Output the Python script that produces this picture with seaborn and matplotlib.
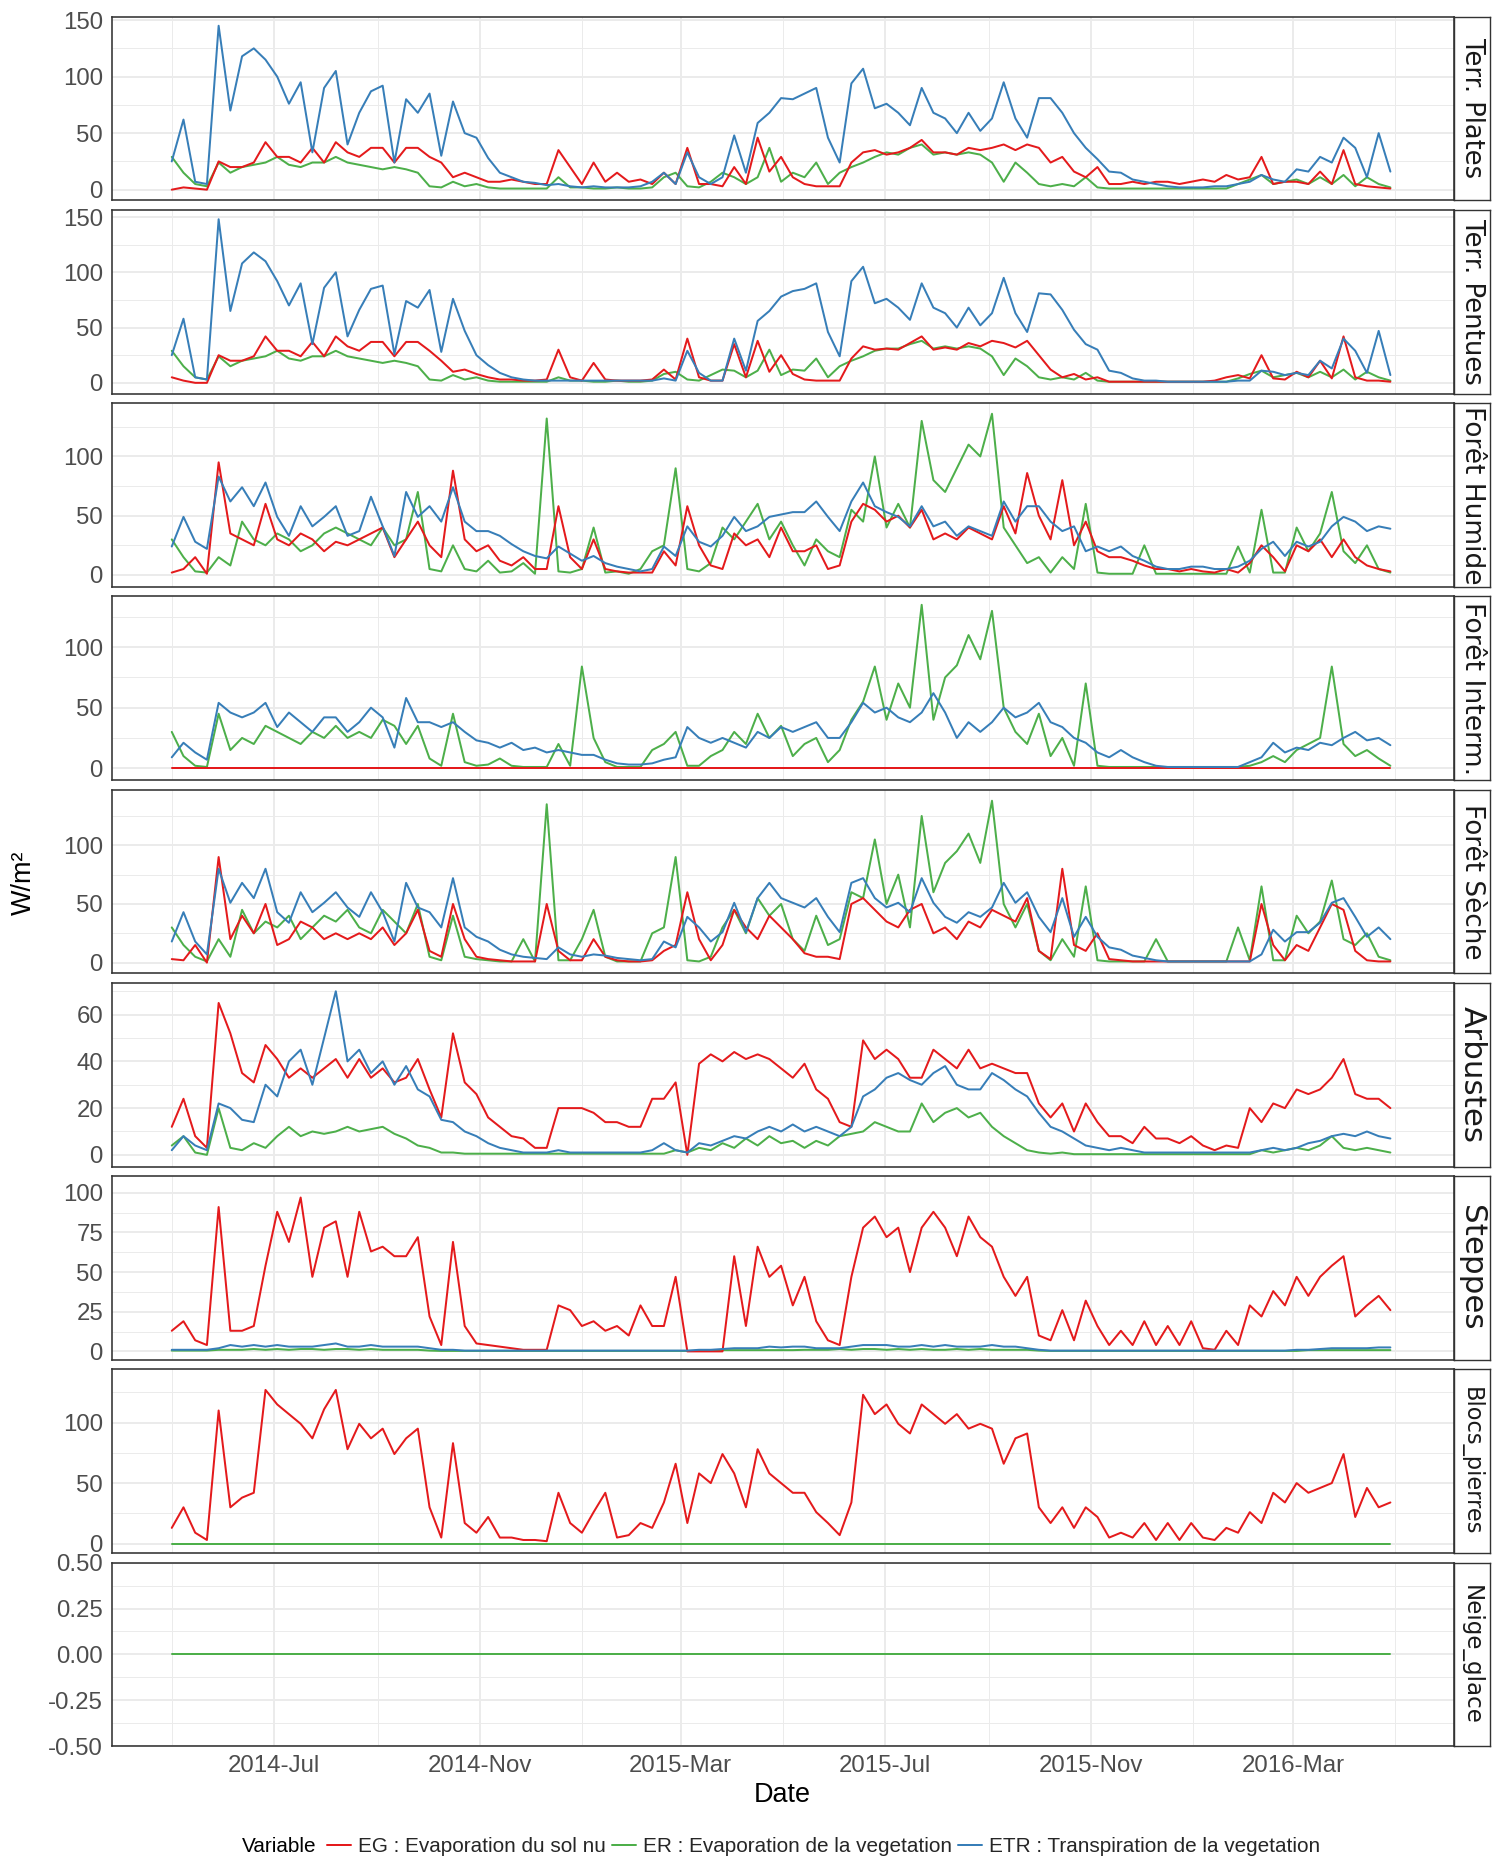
import pandas as pd
import matplotlib
matplotlib.use("Agg")
import matplotlib.pyplot as plt
import matplotlib.dates as mdates
from matplotlib.lines import Line2D
import seaborn as sns

# weekly samples (2014-05-01 .. 2016-04-28)
dates = pd.date_range("2014-05-01", periods=105, freq="7D")

var_eg = "EG : Evaporation du sol nu"
var_er = "ER : Evaporation de la vegetation"
var_etr = "ETR : Transpiration de la vegetation"
variables = [var_eg, var_er, var_etr]
var_colors = {var_eg: "#E41A1C", var_er: "#4DAF4A", var_etr: "#377EB8"}

panels = ["Terr. Plates", "Terr. Pentues", "Forêt Humide", "Forêt Interm.",
          "Forêt Sèche", "Arbustes", "Steppes", "Blocs_pierres", "Neige_glace"]

# --- Terr. Plates
plates_eg = [0, 2, 1, 0, 25, 20, 20, 24, 42, 29, 29, 24, 37, 24, 42, 33, 29, 37, 37, 24,
             37, 37, 29, 24, 11, 15, 11, 7, 7, 9,
             7, 5, 5, 35, 20, 5, 24, 7, 15, 7, 9, 5, 15, 5, 37, 5, 5, 3, 20, 5, 46, 16, 29, 11,
             5, 3, 3, 3, 24, 33, 35, 31, 33, 37, 44, 33, 33, 31, 37, 35, 37, 40, 35, 40,
             37, 24, 29, 16, 11, 20, 5, 5, 7, 5, 7, 7, 5, 7, 9, 7, 13, 9, 11, 29,
             5, 7, 7, 5, 16, 5, 35, 5, 3, 2, 1]
plates_er = [29, 15, 5, 3, 24, 15, 20, 22, 24, 29, 22, 20, 24, 24, 29, 24, 22, 20, 18, 20,
             18, 15, 3, 2, 7, 3, 5, 2, 1, 1,
             1, 1, 1, 11, 2, 2, 1, 1, 2, 1, 1, 2, 11, 15, 3, 2, 7, 15, 11, 5, 11, 37, 7, 15,
             11, 24, 5, 15, 20, 24, 29, 33, 31, 37, 40, 31, 33, 31, 33, 31, 24, 7, 24, 15,
             5, 3, 5, 3, 11, 2, 1, 1, 1, 1, 1, 1, 1, 1, 1, 1, 1, 5, 9, 13,
             5, 7, 9, 5, 11, 5, 13, 3, 11, 5, 2]
plates_etr = [25, 62, 7, 5, 145, 70, 118, 125, 115, 100, 76, 95, 33, 90, 105, 40, 68, 87, 92, 24,
              80, 68, 85, 30, 78, 50, 46, 28, 15, 11,
              7, 6, 4, 5, 3, 2, 3, 2, 2, 2, 3, 7, 15, 5, 33, 11, 5, 11, 48, 15, 59, 68, 81, 80,
              85, 90, 46, 24, 94, 107, 72, 76, 68, 57, 90, 68, 63, 50, 68, 52, 63, 95, 63, 46,
              81, 81, 68, 50, 37, 27, 16, 15, 9, 7, 5, 3, 2, 2, 2, 3, 3, 5, 7, 13,
              9, 7, 18, 16, 29, 24, 46, 37, 11, 50, 16]

# --- Terr. Pentues
pentues_eg = [5, 2, 0, 0, 25, 20, 20, 24, 42, 29, 29, 24, 37, 24, 42, 33, 29, 37, 37, 24,
              37, 37, 29, 20, 10, 12, 8, 5, 3, 3,
              2, 2, 3, 30, 5, 2, 18, 3, 2, 2, 2, 3, 12, 3, 40, 5, 2, 2, 35, 5, 38, 10, 25, 8,
              3, 2, 2, 2, 22, 33, 30, 31, 30, 36, 42, 30, 32, 30, 36, 33, 38, 36, 32, 38,
              25, 12, 5, 8, 3, 5, 1, 1, 1, 1, 1, 1, 1, 1, 1, 2, 5, 7, 4, 25,
              4, 3, 10, 5, 20, 4, 42, 5, 2, 2, 1]
pentues_er = [29, 15, 5, 3, 24, 15, 20, 22, 24, 29, 22, 20, 24, 24, 29, 24, 22, 20, 18, 20,
              18, 15, 3, 2, 7, 3, 5, 2, 1, 1,
              1, 1, 1, 5, 2, 2, 1, 1, 2, 1, 1, 2, 8, 10, 3, 2, 7, 12, 11, 5, 11, 30, 7, 12,
              11, 22, 5, 15, 20, 24, 29, 31, 31, 35, 38, 31, 33, 31, 33, 31, 24, 7, 22, 15,
              5, 3, 5, 3, 9, 2, 1, 1, 1, 1, 1, 1, 1, 1, 1, 1, 1, 4, 8, 11,
              5, 7, 9, 5, 10, 5, 12, 3, 10, 5, 2]
pentues_etr = [25, 58, 5, 3, 148, 65, 108, 118, 110, 92, 70, 90, 35, 86, 100, 42, 66, 85, 88, 26,
               74, 68, 84, 28, 76, 47, 25, 16, 9, 5,
               3, 2, 2, 2, 2, 2, 2, 2, 2, 2, 2, 2, 4, 2, 29, 9, 2, 2, 40, 11, 56, 65, 78, 83,
               85, 90, 46, 24, 92, 105, 72, 76, 68, 57, 90, 68, 63, 50, 68, 52, 63, 95, 63, 46,
               81, 80, 66, 48, 35, 30, 11, 9, 4, 2, 2, 1, 1, 1, 1, 1, 1, 2, 2, 11,
               10, 7, 9, 7, 20, 13, 40, 29, 9, 47, 7]

# --- Forêt Humide
humide_eg = [2, 5, 15, 1, 95, 35, 30, 25, 60, 30, 25, 35, 30, 20, 28, 25, 30, 35, 40, 15,
             30, 45, 25, 15, 88, 30, 20, 25, 12, 8,
             15, 5, 5, 58, 15, 5, 30, 5, 3, 2, 2, 2, 20, 8, 58, 25, 8, 5, 35, 25, 30, 15, 40, 20,
             20, 25, 5, 8, 45, 60, 55, 45, 50, 40, 55, 30, 35, 30, 40, 35, 30, 58, 35, 86,
             50, 30, 80, 25, 45, 20, 15, 15, 12, 8, 5, 5, 3, 5, 3, 2, 5, 2, 10, 25,
             15, 3, 25, 20, 30, 15, 30, 15, 8, 5, 3]
humide_er = [30, 15, 3, 2, 15, 8, 45, 30, 25, 35, 30, 20, 25, 35, 40, 35, 30, 25, 40, 25,
             30, 70, 5, 3, 25, 5, 3, 12, 2, 3,
             10, 1, 132, 3, 2, 5, 40, 2, 3, 1, 5, 20, 25, 90, 5, 3, 10, 40, 30, 45, 60, 30, 45, 25,
             8, 30, 20, 15, 55, 45, 100, 40, 60, 40, 130, 80, 70, 90, 110, 100, 136, 40, 25, 10,
             15, 2, 15, 5, 60, 2, 1, 1, 1, 25, 1, 1, 1, 1, 1, 1, 1, 24, 2, 55,
             2, 2, 40, 20, 35, 70, 20, 10, 25, 5, 2]
humide_etr = [24, 49, 28, 22, 83, 62, 74, 58, 78, 49, 33, 58, 41, 49, 58, 33, 37, 66, 41, 16,
              70, 49, 58, 45, 74, 45, 37, 37, 33, 26,
              20, 16, 14, 24, 18, 12, 16, 10, 7, 5, 3, 5, 24, 16, 41, 28, 24, 33, 49, 37, 41, 49, 51, 53,
              53, 62, 49, 37, 62, 78, 58, 53, 49, 41, 58, 41, 45, 33, 41, 37, 33, 62, 45, 58,
              58, 45, 37, 41, 20, 24, 20, 24, 16, 12, 7, 5, 5, 7, 7, 5, 5, 7, 12, 22,
              28, 16, 28, 24, 28, 41, 49, 45, 37, 41, 39]

# --- Forêt Interm.
interm_eg = [0.0] * 105  # flat zero line in the reference
interm_er = [30, 10, 2, 1, 45, 15, 25, 20, 35, 30, 25, 20, 30, 25, 35, 25, 30, 25, 40, 35,
             20, 35, 8, 2, 45, 5, 2, 3, 8, 2,
             1, 1, 1, 20, 2, 84, 25, 5, 1, 1, 1, 15, 20, 30, 2, 2, 10, 15, 30, 20, 45, 25, 35, 10,
             20, 25, 5, 15, 40, 55, 84, 40, 70, 50, 135, 40, 75, 85, 110, 90, 130, 50, 30, 20,
             45, 10, 25, 2, 70, 2, 1, 1, 1, 1, 1, 1, 1, 1, 1, 1, 1, 1, 2, 5,
             10, 5, 15, 20, 25, 84, 20, 10, 15, 8, 2]
interm_etr = [9, 21, 13, 7, 54, 46, 42, 46, 54, 34, 46, 38, 30, 42, 42, 30, 38, 50, 42, 17,
              58, 38, 38, 34, 38, 30, 23, 21, 17, 21,
              15, 17, 13, 15, 13, 11, 11, 7, 4, 3, 3, 4, 7, 9, 34, 25, 21, 25, 21, 17, 30, 25, 34, 30,
              34, 38, 25, 25, 38, 54, 46, 50, 42, 38, 46, 62, 46, 25, 38, 30, 38, 50, 42, 46,
              54, 38, 34, 25, 21, 13, 9, 15, 9, 5, 2, 1, 1, 1, 1, 1, 1, 1, 5, 9,
              21, 13, 17, 15, 21, 19, 25, 30, 23, 25, 19]

# --- Forêt Sèche
seche_eg = [3, 2, 15, 0, 90, 20, 40, 25, 50, 15, 20, 35, 30, 20, 25, 20, 25, 20, 30, 15,
            25, 45, 10, 5, 50, 20, 5, 3, 2, 1,
            1, 1, 50, 10, 2, 2, 20, 5, 2, 1, 1, 2, 10, 15, 60, 20, 2, 15, 45, 30, 20, 40, 30, 20,
            8, 5, 5, 3, 50, 55, 45, 35, 30, 45, 50, 25, 30, 20, 35, 30, 45, 40, 35, 55,
            10, 3, 80, 15, 10, 25, 3, 2, 1, 1, 1, 1, 1, 1, 1, 1, 1, 1, 1, 50,
            15, 2, 15, 10, 30, 50, 45, 10, 2, 1, 1]
seche_er = [30, 15, 5, 1, 20, 5, 45, 25, 35, 30, 40, 20, 30, 40, 35, 45, 30, 25, 45, 35,
            25, 50, 5, 2, 40, 5, 3, 2, 1, 1,
            20, 1, 135, 2, 2, 20, 45, 5, 1, 1, 1, 25, 30, 90, 2, 1, 5, 30, 45, 25, 55, 40, 50, 20,
            10, 40, 15, 20, 60, 55, 105, 50, 75, 30, 125, 60, 85, 95, 110, 85, 138, 50, 30, 50,
            10, 2, 20, 5, 65, 2, 1, 1, 1, 1, 20, 1, 1, 1, 1, 1, 1, 30, 2, 65,
            2, 2, 40, 25, 35, 70, 20, 15, 25, 5, 2]
seche_etr = [18, 43, 18, 7, 80, 51, 68, 55, 80, 43, 34, 60, 43, 51, 60, 47, 39, 60, 43, 18,
             68, 47, 43, 30, 72, 30, 22, 18, 11, 7,
             5, 4, 3, 13, 7, 5, 7, 6, 4, 3, 2, 3, 18, 13, 39, 30, 18, 26, 51, 26, 55, 68, 55, 51,
             47, 55, 39, 26, 68, 72, 55, 47, 51, 43, 72, 51, 39, 34, 43, 39, 47, 68, 51, 60,
             39, 26, 55, 22, 39, 22, 13, 11, 6, 4, 2, 1, 1, 1, 1, 1, 1, 1, 1, 7,
             28, 18, 26, 26, 34, 51, 55, 39, 22, 30, 20]

# --- Arbustes
arb_eg = [12, 24, 8, 3, 65, 52, 35, 31, 47, 41, 33, 37, 33, 37, 41, 33, 41, 33, 37, 31,
          33, 41, 28, 16, 52, 31, 26, 16, 12, 8,
          7, 3, 3, 20, 20, 20, 18, 14, 14, 12, 12, 24, 24, 31, 0, 39, 43, 40, 44, 41, 43, 41, 37, 33,
          39, 28, 24, 14, 12, 49, 41, 45, 41, 33, 33, 45, 41, 37, 45, 37, 39, 37, 35, 35,
          22, 16, 22, 10, 22, 14, 8, 8, 5, 12, 7, 7, 5, 8, 4, 2, 4, 3, 20, 14,
          22, 20, 28, 26, 28, 33, 41, 26, 24, 24, 20]
arb_er = [4, 8, 1, 0, 20, 3, 2, 5, 3, 8, 12, 8, 10, 9, 10, 12, 10, 11, 12, 9,
          7, 4, 3, 1, 1, 0.5, 0.5, 0.5, 0.5, 0.5,
          0.5, 0.5, 0.5, 0.5, 0.5, 0.5, 0.5, 0.5, 0.5, 0.5, 0.5, 0.5, 0.5, 2, 1, 3, 2, 5, 3, 7, 4, 8, 5, 6,
          3, 6, 4, 8, 9, 10, 14, 12, 10, 10, 22, 14, 18, 20, 16, 18, 12, 8, 5, 2,
          1, 0.5, 1, 0.3, 0.3, 0.3, 0.3, 0.3, 0.3, 0.3, 0.3, 0.3, 0.3, 0.3, 0.3, 0.3, 0.3, 0.3, 0.3, 2,
          1, 2, 3, 2, 4, 8, 3, 2, 3, 2, 1]
arb_etr = [2, 8, 4, 2, 22, 20, 15, 14, 30, 25, 40, 45, 30, 50, 70, 40, 45, 35, 40, 30,
           38, 28, 25, 15, 14, 10, 8, 5, 3, 2,
           1, 1, 1, 2, 1, 1, 1, 1, 1, 1, 1, 2, 5, 2, 1, 5, 4, 6, 8, 7, 10, 12, 10, 13,
           10, 12, 10, 8, 12, 25, 28, 33, 35, 32, 30, 35, 38, 30, 28, 28, 35, 32, 28, 25,
           18, 12, 10, 7, 4, 3, 2, 3, 2, 1, 1, 1, 1, 1, 1, 1, 1, 1, 1, 2,
           3, 2, 3, 5, 6, 8, 9, 8, 10, 8, 7]

# --- Steppes
step_eg = [13, 19, 7, 4, 91, 13, 13, 16, 54, 88, 69, 97, 47, 78, 82, 47, 88, 63, 66, 60,
           60, 72, 22, 4, 69, 16, 5, 4, 3, 2,
           1, 1, 1, 29, 26, 16, 19, 13, 16, 10, 29, 16, 16, 47, 0, 0, 0, 0, 60, 16, 66, 47, 54, 29,
           47, 19, 7, 4, 47, 78, 85, 72, 78, 50, 78, 88, 78, 60, 85, 72, 66, 47, 35, 47,
           10, 7, 26, 7, 32, 16, 4, 13, 4, 19, 4, 16, 4, 19, 2, 1, 13, 4, 29, 22,
           38, 29, 47, 35, 47, 54, 60, 22, 29, 35, 26]
step_er = [0.5, 0.5, 0.5, 0.5, 1, 1, 1, 1.5, 1, 1.5, 1, 1.5, 1.5, 1, 1.5, 1.5, 1, 1.5, 1, 1,
           1, 1, 0.5, 0.3, 0.3, 0.3, 0.3, 0.3, 0.3, 0.3,
           0.3, 0.3, 0.3, 0.3, 0.3, 0.3, 0.3, 0.3, 0.3, 0.3, 0.3, 0.3, 0.3, 0.3, 0.3, 0.3, 0.3, 0.8, 0.8, 0.8,
           0.8, 0.8, 0.8, 0.8,
           1, 1, 1, 1.5, 1, 1.5, 1.5, 1, 1.5, 1, 1.5, 1, 1, 1.5, 1, 1.5, 1, 1, 1, 1,
           0.5, 0.3, 0.3, 0.3, 0.3, 0.3, 0.3, 0.3, 0.3, 0.3, 0.3, 0.3, 0.3, 0.3, 0.3, 0.3, 0.3, 0.3, 0.3, 0.3,
           0.3, 0.3, 0.3, 0.8, 0.8, 0.8, 0.8, 0.8, 0.8, 0.8, 0.8]
step_etr = [1, 1, 1, 1, 2, 4, 3, 4, 3, 4, 3, 3, 3, 4, 5, 3, 3, 4, 3, 3,
            3, 3, 2, 1, 1, 0.5, 0.5, 0.5, 0.5, 0.5,
            0.5, 0.5, 0.5, 0.5, 0.5, 0.5, 0.5, 0.5, 0.5, 0.5, 0.5, 0.5, 0.5, 0.5, 0.5, 1, 1, 1.5, 2, 2,
            2, 3, 2.5, 3,
            3, 2, 2, 2, 3, 4, 4, 4, 3, 3, 4, 3, 4, 3, 3, 3, 4, 3, 3, 2,
            1, 0.5, 0.5, 0.5, 0.5, 0.5, 0.5, 0.5, 0.5, 0.5, 0.5, 0.5, 0.5, 0.5, 0.5, 0.5, 0.5, 0.5, 0.5, 0.5,
            0.5, 0.5, 1, 1, 1.5, 2, 2, 2, 2, 2.5, 2.5]

# --- Blocs_pierres
blocs_eg = [13, 30, 9, 3, 110, 30, 38, 42, 127, 115, 107, 99, 87, 111, 127, 78, 99, 87, 95, 74,
            87, 95, 30, 5, 83, 17, 9, 22, 5, 5,
            3, 3, 2, 42, 17, 9, 26, 42, 5, 7, 17, 13, 34, 66, 17, 58, 50, 74, 58, 30, 78, 58, 50, 42,
            42, 26, 17, 7, 34, 123, 107, 115, 99, 91, 115, 107, 99, 107, 95, 99, 95, 66, 87, 91,
            30, 17, 30, 13, 30, 22, 5, 9, 5, 17, 3, 17, 3, 17, 5, 3, 13, 9, 26, 17,
            42, 34, 50, 42, 46, 50, 74, 22, 46, 30, 34]
blocs_er = [0.0] * 105

# --- Neige_glace
neige_er = [0.0] * 105

series = {
    "Terr. Plates": (plates_eg, plates_er, plates_etr),
    "Terr. Pentues": (pentues_eg, pentues_er, pentues_etr),
    "Forêt Humide": (humide_eg, humide_er, humide_etr),
    "Forêt Interm.": (interm_eg, interm_er, interm_etr),
    "Forêt Sèche": (seche_eg, seche_er, seche_etr),
    "Arbustes": (arb_eg, arb_er, arb_etr),
    "Steppes": (step_eg, step_er, step_etr),
    "Blocs_pierres": (blocs_eg, blocs_er, None),
    "Neige_glace": (None, neige_er, None),
}

# y scales (free per facet)
ylims = [(-9.4, 153.1), (-9.7, 156.5), (-10, 145), (-9.8, 142), (-9.1, 147.5),
         (-5, 73.6), (-5.3, 110.5), (-7.8, 144), (-0.5, 0.5)]
yticks = [[0, 50, 100, 150], [0, 50, 100, 150], [0, 50, 100], [0, 50, 100], [0, 50, 100],
          [0, 20, 40, 60], [0, 25, 50, 75, 100], [0, 50, 100], [-0.5, -0.25, 0, 0.25, 0.5]]
yminor = [[25, 75, 125], [25, 75, 125], [25, 75, 125], [25, 75, 125], [25, 75, 125],
          [10, 30, 50, 70], [12.5, 37.5, 62.5, 87.5], [25, 75, 125],
          [-0.375, -0.125, 0.125, 0.375]]
ylabels = [None] * 8 + [["-0.50", "-0.25", "0.00", "0.25", "0.50"]]
strip_sizes = [25.7, 25.9, 26.4, 26.7, 26.2, 31, 31, 22.5, 23]

major_x = pd.to_datetime(["2014-07-01", "2014-11-01", "2015-03-01",
                          "2015-07-01", "2015-11-01", "2016-03-01"])
minor_x = pd.to_datetime(["2014-05-01", "2014-09-01", "2015-01-01", "2015-05-01",
                          "2015-09-01", "2016-01-01", "2016-05-01"])
xlim = (pd.Timestamp("2014-03-26"), pd.Timestamp("2016-06-05"))

rows = []
for panel, vals3 in series.items():
    for var, vals in zip(variables, vals3):
        if vals is None:
            continue
        if len(vals) != len(dates):
            raise ValueError(f"{panel} / {var}: {len(vals)} values")
        rows.append(pd.DataFrame({"Date": dates, "value": vals,
                                  "Variable": var, "panel": panel}))
df = pd.concat(rows, ignore_index=True)

sns.set_style("white")
plt.rcParams["font.family"] = ["Liberation Sans", "DejaVu Sans"]
plt.rcParams["axes.unicode_minus"] = False

W, H = 1499, 1859
fig = plt.figure(figsize=(W / 72, H / 72), dpi=72)
left, right, strip_r = 111.5, 1454, 1489.5
top0, pitch, ph = 16.6, 193.25, 183.7
draw_order = [var_er, var_eg, var_etr]

for i, panel in enumerate(panels):
    top = top0 + pitch * i
    b = 1 - (top + ph) / H
    ax = fig.add_axes([left / W, b, (right - left) / W, ph / H])
    sub = df[df["panel"] == panel]
    present = set(sub["Variable"])
    order = [v for v in draw_order if v in present]
    sns.lineplot(data=sub, x="Date", y="value", hue="Variable", hue_order=order,
                 palette=var_colors, estimator=None, errorbar=None,
                 linewidth=2, legend=False, ax=ax)
    ax.set_axisbelow(True)
    ax.set_xlim(xlim)
    ax.set_ylim(ylims[i])
    ax.set_yticks(yticks[i])
    ax.set_yticks(yminor[i], minor=True)
    if ylabels[i] is not None:
        ax.set_yticklabels(ylabels[i])
    ax.set_xticks(major_x)
    ax.set_xticks(minor_x, minor=True)
    ax.xaxis.set_major_formatter(mdates.DateFormatter("%Y-%b"))
    ax.grid(which="major", color="#EBEBEB", lw=2)
    ax.grid(which="minor", color="#EBEBEB", lw=1)
    ax.tick_params(axis="y", which="major", length=5.5, width=1.5, color="#333333",
                   labelsize=24, labelcolor="#4D4D4D", pad=3)
    ax.tick_params(which="minor", length=0)
    if i == len(panels) - 1:
        ax.tick_params(axis="x", which="major", length=5.5, width=1.5, color="#333333",
                       labelsize=24, labelcolor="#4D4D4D", pad=3)
    else:
        ax.tick_params(axis="x", which="major", length=0, labelbottom=False)
    ax.set_xlabel("")
    ax.set_ylabel("")
    for sp in ax.spines.values():
        sp.set_color("#333333")
        sp.set_linewidth(1.6)

    # facet strip on the right
    sax = fig.add_axes([right / W, b, (strip_r - right) / W, ph / H])
    sax.set_xticks([])
    sax.set_yticks([])
    sax.set_facecolor("white")
    for sp in sax.spines.values():
        sp.set_color("#333333")
        sp.set_linewidth(1.4)
    sax.text(0.5, 0.5, panel, rotation=270, ha="center", va="center",
             fontsize=strip_sizes[i], color="#1A1A1A", family="DejaVu Sans",
             transform=sax.transAxes)

fig.text(23.7 / W, 1 - 883 / H, "W/m²", rotation=90, ha="center", va="center",
         fontsize=27, color="black")
fig.text((left + right) / 2 / W, 1 - 1795 / H, "Date", ha="center", va="center",
         fontsize=27, color="black")

leg_y = 1 - 1847 / H
fig.text(242 / W, leg_y, "Variable", ha="left", va="center", fontsize=20.8, color="black")
handles = [Line2D([], [], color=var_colors[v], lw=2) for v in variables]
fig.legend(handles, variables, loc="center left", bbox_to_anchor=(327 / W, leg_y),
           ncol=3, frameon=False, fontsize=20.8, handlelength=1.15, handletextpad=0.33,
           columnspacing=0.3, borderpad=0, borderaxespad=0)

fig.savefig("out.png", dpi=72)
